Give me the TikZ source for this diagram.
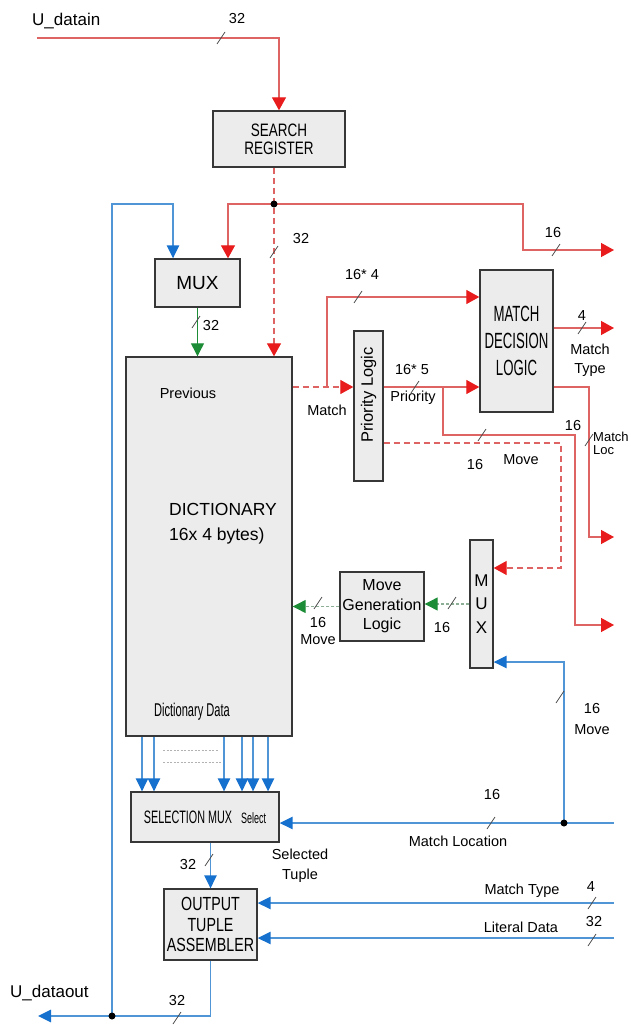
\documentclass[tikz,border=0pt]{standalone}
\usepackage{fontspec}
\setmainfont{Liberation Sans}
\newfontfamily\narrowfont[FakeStretch=0.75]{Liberation Sans}
\newfontfamily\condfont[FakeStretch=0.6]{Liberation Sans}
\usepackage{tikz}
\usetikzlibrary{positioning,arrows.meta}
\definecolor{bRed}{RGB}{232,28,28}
\definecolor{bRedL}{RGB}{222,100,100}
\definecolor{bBlue}{RGB}{22,112,205}
\definecolor{bBlueL}{RGB}{80,150,215}
\definecolor{bGreen}{RGB}{28,140,55}
\definecolor{bGreenL}{RGB}{140,175,150}
\definecolor{bFill}{RGB}{236,236,236}
\definecolor{bLine}{RGB}{55,55,55}
\tikzset{
  blk/.style={rectangle, draw=bLine, fill=bFill, line width=1.4pt,
              inner sep=0pt, align=center},
  redbus/.style={draw=bRedL, line width=1.3pt,
                 -{Triangle[length=13pt,width=14pt,color=bRed]}},
  reddash/.style={redbus, dash pattern=on 6pt off 4pt},
  bluebus/.style={draw=bBlueL, line width=1.5pt,
                  -{Triangle[length=13pt,width=12.5pt,color=bBlue]}},
  greenbus/.style={draw=bGreen, line width=1.2pt,
                   -{Triangle[length=13pt,width=13pt,color=bGreen]}},
  greendash/.style={greenbus, draw=bGreenL, dash pattern=on 3pt off 2pt},
  gapdash/.style={draw=gray!60, line width=1pt, dash pattern=on 2pt off 1.5pt},
  lbl/.style={font=\fontsize{14.5}{17}\selectfont, inner sep=0pt},
  tickmark/.style={draw=black!70, line width=0.8pt},
  jdot/.style={circle, fill=black, inner sep=0pt, minimum size=7pt},
}
\newcommand{\bustick}[1]{\draw[tickmark] (#1) ++(-4,6) -- ++(8,-12);}

\begin{document}
\begin{tikzpicture}[x=1pt, y=-1pt]
  \useasboundingbox (0,0) rectangle (630,1025);

  % blocks
  \node[blk, minimum width=132pt, minimum height=56pt,
        font=\narrowfont\fontsize{18}{18}\selectfont] (sreg) at (279,139) {SEARCH\\REGISTER};
  \node[blk, minimum width=85pt, minimum height=48pt,
        font=\fontsize{19}{19}\selectfont] (mux) at (197.5,283) {MUX};
  \node[blk, minimum width=166pt, minimum height=379pt] (dict) at (209,546.5) {};
  \node[blk, minimum width=29pt, minimum height=150pt] (prio) at (368.5,406) {};
  \node[blk, minimum width=73pt, minimum height=142pt,
        font=\condfont\fontsize{22}{27}\selectfont] (mdl) at (516.5,341) {MATCH\\DECISION\\LOGIC};
  \node[blk, minimum width=23pt, minimum height=128pt,
        font=\fontsize{17}{23.5}\selectfont] (mux2) at (481.5,604) {M\\U\\X};
  \node[blk, minimum width=84pt, minimum height=69pt,
        font=\fontsize{16}{19.5}\selectfont] (mgl) at (382,606.5) {Move\\Generation\\Logic};
  \node[blk, minimum width=148pt, minimum height=50pt] (selmux) at (205,817)
    {{\condfont\fontsize{18}{18}\selectfont SELECTION MUX}\hspace{9pt}%
     {\condfont\fontsize{15}{15}\selectfont Select}};
  \node[blk, minimum width=93pt, minimum height=71pt,
        font=\narrowfont\fontsize{19}{20.5}\selectfont] (ota) at (210.5,924.5) {OUTPUT\\TUPLE\\ASSEMBLER};

  % texts inside the dictionary and priority block
  \node[lbl] (lprev) at (188,393) {Previous};
  \node[lbl, font=\fontsize{17.5}{25}\selectfont, align=left, anchor=west] (ldict)
    at (169,524) {DICTIONARY\\16x 4 bytes)};
  \node[lbl, font=\condfont\fontsize{18.5}{18.5}\selectfont] (ldd) at (192,712) {Dictionary Data};
  \node[lbl, rotate=90, font=\fontsize{16.5}{16.5}\selectfont] (lpl) at (368.5,395) {Priority Logic};

  % ends and bends
  \coordinate (din) at (37,38);
  \coordinate (split) at (274,204);
  \coordinate (bend1) at (523,250);
  \coordinate (out16) at (614,250);
  \coordinate (fbtop) at (112,204);
  \coordinate (dotout) at (112,1016);
  \coordinate (dout) at (38,1016);
  \coordinate (mjoin) at (327,387);
  \coordinate (pbr) at (443,387);
  \coordinate (mvbend) at (575,435);
  \coordinate (mvout) at (614,625);
  \coordinate (mtout) at (614,328);
  \coordinate (mlbend) at (589,537);
  \coordinate (mlout) at (614,537);
  \coordinate (dmv) at (561,443);
  \coordinate (mloc) at (564,823);
  \coordinate (mlin) at (614,823);
  \coordinate (mtin) at (614,903);
  \coordinate (litin) at (614,938);

  % red buses
  \draw[redbus] (din) -| (sreg.north);
  \draw[reddash] (sreg.south -| split) -- (dict.north -| split);
  \draw[redbus] (split) -| ([xshift=30.5pt]mux.north);
  \draw[redbus] (split) -| (bend1) -- (out16);
  \draw[reddash] (dict.east |- mjoin) -- (prio.west |- mjoin);
  \draw[redbus] (mjoin) |- ([yshift=44pt]mdl.west);
  \draw[redbus] (prio.east |- mjoin) -- (mdl.west |- mjoin);
  \draw[redbus] (pbr) |- (mvbend) |- (mvout);
  \draw[redbus] (mdl.east |- mtout) -- (mtout);
  \draw[redbus] (mdl.east |- mjoin) -| (mlbend) -- (mlout);
  \draw[reddash] (prio.east |- dmv) -- (dmv) |- ([yshift=36pt]mux2.east);

  % green buses
  \draw[greenbus] (mux.south) -- (mux.south |- dict.north);
  \draw[greendash] (mux2.west) -- (mgl.east |- mux2.west);
  \draw[greendash] (mgl.west) -- (dict.east |- mgl.west);

  % blue buses
  \draw[bluebus] (dotout) -- (fbtop) -| ([xshift=-24.5pt]mux.north);
  \draw[bluebus] (mloc) |- ([yshift=-58pt]mux2.east);
  \draw[bluebus] (mlin) -- (selmux.east |- mlin);
  \draw[bluebus] (selmux.south -| ota.north) -- (ota.north);
  \draw[bluebus] (mtin) -- (ota.east |- mtin);
  \draw[bluebus] (litin) -- (ota.east |- litin);
  \draw[bluebus] (ota.south) |- (dout);
  \foreach \cx [count=\i] in {142,154,224,242,253,268} {
    \coordinate (col\i) at (\cx,0);
    \draw[bluebus] (dict.south -| col\i) -- (selmux.north -| col\i);
  }
  \draw[gapdash] (163,750) -- (218,750);
  \draw[gapdash] (163,762) -- (222,762);

  % junctions
  \node[jdot] at (split) {};
  \node[jdot] at (mloc) {};
  \node[jdot] at (dotout) {};

  % bus widths and signal names
  \node[lbl, font=\fontsize{17}{17}\selectfont, anchor=west] (ldin) at (32,21) {U\_datain};
  \node[lbl] (l32a) at (237,19) {32};
  \bustick{221,38}
  \node[lbl] (l32b) at (301,239) {32};
  \bustick{274,252}
  \node[lbl] (l16a) at (553,233) {16};
  \bustick{556,250}
  \node[lbl] (l32c) at (211,326) {32};
  \bustick{196,322}
  \node[lbl] (lmatch) at (327,410) {Match};
  \node[lbl] (l164) at (362,275) {16* 4};
  \bustick{358,297}
  \node[lbl] (l165) at (412,370) {16* 5};
  \bustick{415,387}
  \node[lbl] (lprio) at (413,398) {Priority};
  \node[lbl] (l16b) at (475,465) {16};
  \bustick{482,435}
  \node[lbl] (lmv1) at (521,460) {Move};
  \node[lbl] (l4a) at (582,316) {4};
  \bustick{582,328}
  \node[lbl, align=center, font=\fontsize{14.5}{19}\selectfont] (lmt) at (590,360) {Match\\Type};
  \node[lbl] (l16c) at (573,426) {16};
  \bustick{589,440}
  \node[lbl, align=left, anchor=west, font=\fontsize{13}{13}\selectfont] (lml) at (593,443) {Match\\Loc};
  \node[lbl] (l16d) at (318,623) {16};
  \node[lbl, below=6pt of l16d] (lmv2) {Move};
  \bustick{318,603}
  \node[lbl] (l16e) at (442,628) {16};
  \bustick{452,603}
  \node[lbl] (l16f) at (592,708) {16};
  \node[lbl, below=11pt of l16f] (lmv3) {Move};
  \bustick{560,697}
  \node[lbl] (l16g) at (492,794) {16};
  \bustick{491,823}
  \node[lbl] (lmloc) at (458,841) {Match Location};
  \node[lbl] (l32d) at (188,864) {32};
  \bustick{209,860}
  \node[lbl, align=center, font=\fontsize{14.5}{20}\selectfont] (lsel) at (300,866) {Selected\\Tuple};
  \node[lbl] (lmt2) at (522,891) {Match Type};
  \node[lbl] (l4b) at (591,887) {4};
  \bustick{592,903}
  \node[lbl] (llit) at (521,927) {Literal Data};
  \node[lbl] (l32e) at (594,921) {32};
  \bustick{592,940}
  \node[lbl, font=\fontsize{17}{17}\selectfont, anchor=west] (ldout) at (10,993) {U\_dataout};
  \node[lbl] (l32f) at (177,1000) {32};
  \bustick{177,1018}
\end{tikzpicture}
\end{document}
